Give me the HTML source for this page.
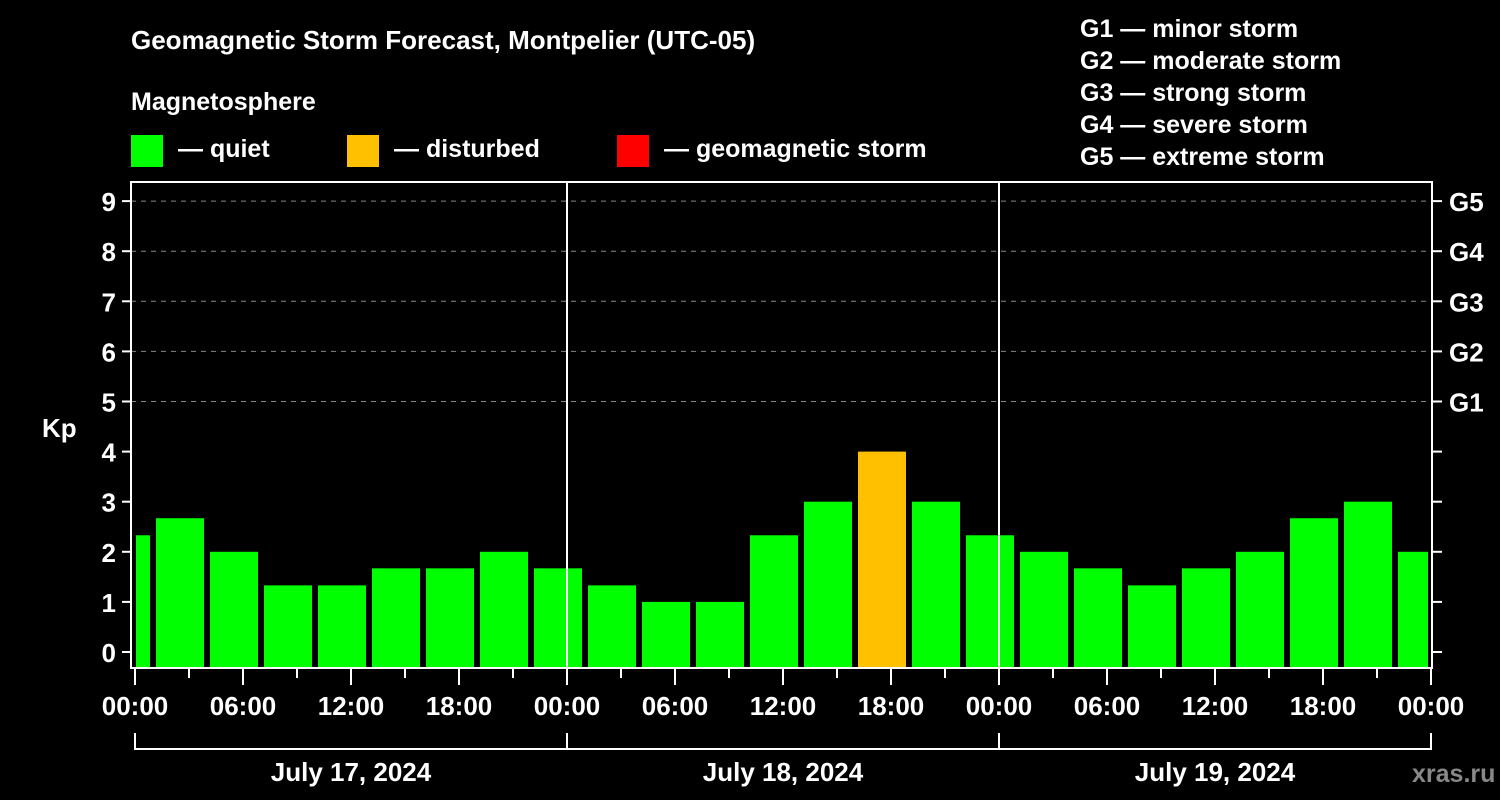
<!DOCTYPE html>
<html><head><meta charset="utf-8"><style>
body{margin:0;background:#000;}
svg{display:block;font-family:"Liberation Sans",Arial,sans-serif;font-weight:bold;}
</style></head><body>
<svg id="chart" width="1500" height="800" viewBox="0 0 1500 800">
<rect width="1500" height="800" fill="#000"/>
<text x="131" y="49" fill="#fff" font-size="26">Geomagnetic Storm Forecast, Montpelier (UTC-05)</text>
<text x="131" y="110" fill="#fff" font-size="25">Magnetosphere</text>
<g><rect x="131" y="135" width="32" height="32" fill="#00ff00"/><text x="178" y="157" fill="#fff" font-size="25">— quiet</text></g>
<g><rect x="347" y="135" width="32" height="32" fill="#ffc000"/><text x="394" y="157" fill="#fff" font-size="25">— disturbed</text></g>
<g><rect x="617" y="135" width="32" height="32" fill="#ff0000"/><text x="664" y="157" fill="#fff" font-size="25">— geomagnetic storm</text></g>
<g fill="#fff" font-size="25">
<text x="1080" y="37">G1 — minor storm</text><text x="1080" y="69">G2 — moderate storm</text><text x="1080" y="101">G3 — strong storm</text><text x="1080" y="133">G4 — severe storm</text><text x="1080" y="165">G5 — extreme storm</text></g>
<text x="42" y="437" fill="#fff" font-size="26">Kp</text>
<text x="1412" y="782" fill="#888" font-size="25">xras.ru</text>
<g id="plot"></g>
</svg>
<script>
const kpValues=[2.33,2.67,2,1.33,1.33,1.67,1.67,2,1.67,1.33,1,1,2.33,3,4,3,2.33,2,1.67,1.33,1.67,2,2.67,3,2];
const barStartHours=[-2,1,4,7,10,13,16,19,22,25,28,31,34,37,40,43,46,49,52,55,58,61,64,67,70];
const dayLabels=["July 17, 2024","July 18, 2024","July 19, 2024"];
const yTicks=[0,1,2,3,4,5,6,7,8,9];
const gLevels=[["G1",5],["G2",6],["G3",7],["G4",8],["G5",9]];
const NS="http://www.w3.org/2000/svg";
const g=document.getElementById('plot');
const X=h=>135+h*18, Y=k=>652-k*50.1;
const L=131,R=1432,T=182,B=668;
function mk(t,a,txt){const e=document.createElementNS(NS,t);for(const k in a)e.setAttribute(k,a[k]);if(txt!==undefined)e.textContent=txt;g.appendChild(e);return e;}
gLevels.forEach(([n,k])=>{
 const l=mk('line',{x1:L,x2:R,y1:Y(k),y2:Y(k),stroke:'#888','stroke-width':1,'stroke-dasharray':'5,5'});
 
 
 const t=mk('text',{x:1449,y:Y(k)+10,fill:'#fff','font-size':26},n);
 
 
});
kpValues.forEach((v,i)=>{
 let x0=Math.max(X(barStartHours[i])+3,136), x1=Math.min(X(barStartHours[i]+3)-3,1428);
 const r=mk('rect',{x:x0,y:Y(v),width:x1-x0,height:B-Y(v),fill:v>=5?'#ff0000':(v>=4?'#ffc000':'#00ff00')});
 
 
});
[1,2].forEach(d=>{const l=mk('line',{x1:X(d*24),x2:X(d*24),y1:T,y2:B,stroke:'#fff','stroke-width':2});
 
 });
const fr=mk('rect',{x:L,y:T,width:R-L,height:B-T,fill:'none',stroke:'#fff','stroke-width':2});


yTicks.forEach(k=>{
 mk('line',{x1:122,x2:L,y1:Y(k),y2:Y(k),stroke:'#fff','stroke-width':2});
 mk('line',{x1:R,x2:1442,y1:Y(k),y2:Y(k),stroke:'#fff','stroke-width':2});
 const t=mk('text',{x:116,y:Y(k)+10,fill:'#fff','font-size':26,'text-anchor':'end'},String(k));
 
 
});
for(let h=0;h<=72;h+=3){
 const maj=h%6===0;
 mk('line',{x1:X(h),x2:X(h),y1:B,y2:maj?685:678,stroke:'#fff','stroke-width':2});
 if(maj){const t=mk('text',{x:X(h),y:715,fill:'#fff','font-size':26,'text-anchor':'middle'},String(h%24).padStart(2,'0')+':00');
  
  }
}
mk('line',{x1:X(0),x2:X(72),y1:749,y2:749,stroke:'#fff','stroke-width':2});
for(let d=0;d<=3;d++)mk('line',{x1:X(d*24),x2:X(d*24),y1:733,y2:750,stroke:'#fff','stroke-width':2});
dayLabels.forEach((s,d)=>{const t=mk('text',{x:X(d*24+12),y:781,fill:'#fff','font-size':26,'text-anchor':'middle'},s);
 
 });
</script>
</body></html>
